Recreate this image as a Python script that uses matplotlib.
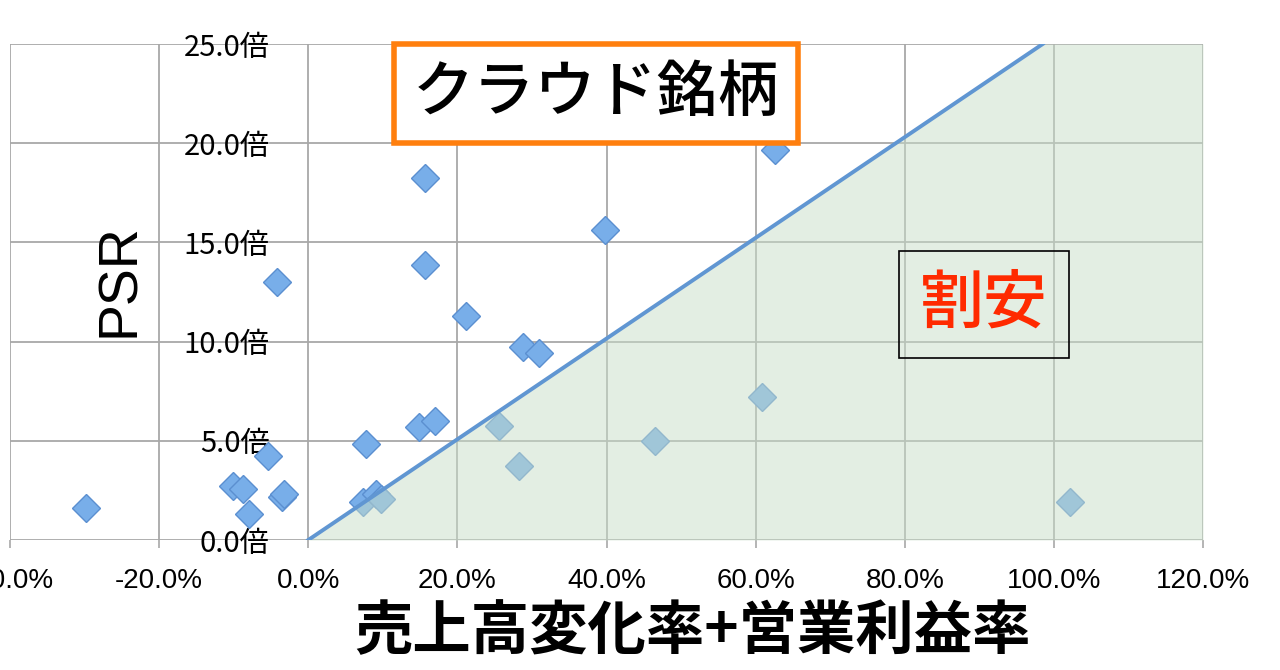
import matplotlib
matplotlib.use("Agg")
import matplotlib.pyplot as plt
from matplotlib.ticker import FuncFormatter, MultipleLocator

plt.rcParams['font.family'] = ['Noto Sans CJK JP', 'DejaVu Sans']

# growth + operating margin (fraction) vs PSR (times)
growth = [-0.298, -0.101, -0.087, -0.080, -0.054, -0.042, -0.035, -0.032,
          0.074, 0.091, 0.097, 0.078, 0.148, 0.170, 0.156, 0.156, 0.211,
          0.256, 0.283, 0.288, 0.310, 0.398, 0.465, 0.608, 0.626, 1.022]
psr = [1.61, 2.70, 2.57, 1.31, 4.23, 13.0, 2.17, 2.32,
       1.92, 2.30, 2.05, 4.84, 5.70, 6.0, 18.25, 13.86, 11.29,
       5.75, 3.73, 9.73, 9.43, 15.6, 4.99, 7.2, 19.66, 1.92]

line_x = [0, 0.985]
line_y = [0, 25]
fill_x = [0, 0.985, 1.2]
fill_y = [0, 25, 25]

fig = plt.figure(figsize=(12.8, 6.7), dpi=100)
ax = fig.add_axes([10 / 1280, 130 / 670, 1193 / 1280, 496 / 670])

ax.plot(growth, psr, linestyle="none", marker="D", markersize=14,
        markerfacecolor="#78aee9", markeredgecolor="#5b8fd0",
        markeredgewidth=1.0, zorder=3)

ax.fill_between(fill_x, fill_y, 0, color="#c9dfc9", alpha=0.5,
                linewidth=0, zorder=4)
ax.plot(line_x, line_y, color="#6096d2", linewidth=2.8, zorder=5)

ax.set_xlim(-0.4, 1.2)
ax.set_ylim(0, 25)
ax.xaxis.set_major_locator(MultipleLocator(0.2))
ax.yaxis.set_major_locator(MultipleLocator(5))
ax.xaxis.set_major_formatter(FuncFormatter(lambda v, p: f"{v * 100:.1f}%"))
ax.yaxis.set_major_formatter(FuncFormatter(lambda v, p: f"{v:.1f}倍"))

ax.grid(True, color="#a8a8a8", linewidth=1.3, zorder=1)
ax.set_axisbelow(True)
for s in ["top", "right", "bottom"]:
    ax.spines[s].set_visible(False)
ax.spines["left"].set_position(("data", 0))
ax.spines["left"].set_visible(False)

ax.tick_params(axis="y", length=0, pad=28, labelsize=21)
ax.tick_params(axis="x", length=6, width=1.2, color="#a8a8a8", pad=14,
               labelsize=20)
for lab in ax.get_xticklabels():
    lab.set_family(["Liberation Sans", "DejaVu Sans"])

fig.text(692 / 1280, 1 - 632 / 670, "売上高変化率+営業利益率", fontsize=42,
         ha="center", va="center", fontweight="bold")
fig.text(120 / 1280, 1 - 280 / 670, "PSR", fontsize=40, rotation=90,
         ha="center", va="center", family=["Liberation Sans", "DejaVu Sans"])

ax.text(0.386, 22.5, "クラウド銘柄", fontsize=44, ha="center", va="center",
        zorder=6, fontweight="medium",
        bbox=dict(boxstyle="square,pad=0.3", facecolor="white",
                  edgecolor="#ff7f0e", linewidth=4))
ax.text(0.906, 11.87, "割安", fontsize=46, color="#ff2a00", ha="center",
        va="center", zorder=6, fontweight="medium",
        bbox=dict(boxstyle="square,pad=0.33", facecolor="none",
                  edgecolor="black", linewidth=1.2))

fig.savefig("out.png", dpi=100)
